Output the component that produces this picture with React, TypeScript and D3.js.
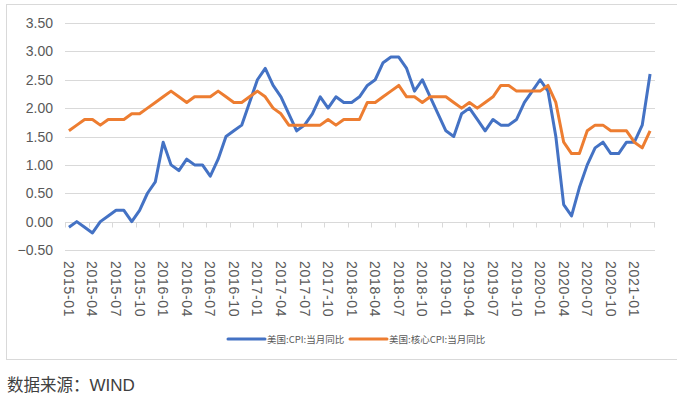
import React, { useRef, useEffect } from 'react';
import * as d3 from 'd3';

// 2015-01 .. 2021-03, monthly
const months = d3.range(75).map(i => {
  const y = 2015 + Math.floor(i / 12);
  const m = (i % 12) + 1;
  return `${y}-${m < 10 ? '0' + m : m}`;
});

const cpi = [
  -0.1, 0.0, -0.1, -0.2, 0.0, 0.1, 0.2, 0.2, 0.0, 0.2, 0.5, 0.7,
  1.4, 1.0, 0.9, 1.1, 1.0, 1.0, 0.8, 1.1, 1.5, 1.6, 1.7, 2.1,
  2.5, 2.7, 2.4, 2.2, 1.9, 1.6, 1.7, 1.9, 2.2, 2.0, 2.2, 2.1,
  2.1, 2.2, 2.4, 2.5, 2.8, 2.9, 2.9, 2.7, 2.3, 2.5, 2.2, 1.9,
  1.6, 1.5, 1.9, 2.0, 1.8, 1.6, 1.8, 1.7, 1.7, 1.8, 2.1, 2.3,
  2.5, 2.3, 1.5, 0.3, 0.1, 0.6, 1.0, 1.3, 1.4, 1.2, 1.2, 1.4,
  1.4, 1.7, 2.6,
];

const coreCpi = [
  1.6, 1.7, 1.8, 1.8, 1.7, 1.8, 1.8, 1.8, 1.9, 1.9, 2.0, 2.1,
  2.2, 2.3, 2.2, 2.1, 2.2, 2.2, 2.2, 2.3, 2.2, 2.1, 2.1, 2.2,
  2.3, 2.2, 2.0, 1.9, 1.7, 1.7, 1.7, 1.7, 1.7, 1.8, 1.7, 1.8,
  1.8, 1.8, 2.1, 2.1, 2.2, 2.3, 2.4, 2.2, 2.2, 2.1, 2.2, 2.2,
  2.2, 2.1, 2.0, 2.1, 2.0, 2.1, 2.2, 2.4, 2.4, 2.3, 2.3, 2.3,
  2.3, 2.4, 2.1, 1.4, 1.2, 1.2, 1.6, 1.7, 1.7, 1.6, 1.6, 1.6,
  1.4, 1.3, 1.6,
];

const yTicks = [-0.5, 0, 0.5, 1, 1.5, 2, 2.5, 3, 3.5];

const seriesNames = ['美国:CPI:当月同比', '美国:核心CPI:当月同比'];
const seriesColors = ['#4472C4', '#ED7D31'];

const W = 677, H = 398;

const App = () => {
  const svgRef = useRef(null);

  useEffect(() => {
    const svg = d3.select(svgRef.current);
    svg.selectAll('*').remove();

    const left = 65, right = 654, top = 23, bottom = 250;

    const x = d3.scaleBand().domain(months).range([left, right]).padding(0);
    const y = d3.scaleLinear().domain([-0.5, 3.5]).range([bottom, top]);
    const cx = d => x(d) + x.bandwidth() / 2;

    // chart frame
    svg.append('rect')
      .attr('x', 6.5).attr('y', 4.5)
      .attr('width', 680).attr('height', 355)
      .attr('fill', 'none').attr('stroke', '#D9D9D9');

    // gridlines + y labels
    svg.append('g').selectAll('line').data(yTicks).enter().append('line')
      .attr('x1', left).attr('x2', right + 1)
      .attr('y1', d => Math.round(y(d)) + 0.5).attr('y2', d => Math.round(y(d)) + 0.5)
      .attr('stroke', '#D9D9D9');

    svg.append('g').selectAll('text').data(yTicks).enter().append('text')
      .attr('x', 53).attr('y', d => y(d))
      .attr('text-anchor', 'end').attr('dominant-baseline', 'central')
      .attr('font-family', 'Liberation Sans, Arial, sans-serif')
      .attr('font-size', 14).attr('fill', '#595959')
      .text(d => d3.format('.2f')(d));

    // category ticks on the zero line
    const y0 = Math.round(y(0)) + 0.5;
    const tickPos = months.filter((_, i) => i % 3 === 0).map(m => x(m)).concat([right]);
    svg.append('g').selectAll('line').data(tickPos).enter().append('line')
      .attr('x1', d => Math.round(d) + 0.5).attr('x2', d => Math.round(d) + 0.5)
      .attr('y1', y0).attr('y2', y0 + 5)
      .attr('stroke', '#D9D9D9');
    svg.append('line')
      .attr('x1', left).attr('x2', right + 1).attr('y1', y0).attr('y2', y0)
      .attr('stroke', '#D9D9D9');

    // x labels
    svg.append('g').selectAll('text')
      .data(months.filter((_, i) => i % 3 === 0)).enter().append('text')
      .attr('transform', d => `translate(${cx(d)},261) rotate(90)`)
      .attr('dominant-baseline', 'central')
      .attr('font-family', 'Liberation Sans, Arial, sans-serif')
      .attr('font-size', 14).attr('letter-spacing', 0.7).attr('fill', '#595959')
      .text(d => d);

    // lines
    const line = d3.line().x((d, i) => cx(months[i])).y(d => y(d));
    [cpi, coreCpi].forEach((s, k) => {
      svg.append('path')
        .datum(s)
        .attr('d', line)
        .attr('fill', 'none')
        .attr('stroke', seriesColors[k])
        .attr('stroke-width', 3)
        .attr('stroke-linejoin', 'round');
    });

    // legend
    const legendX = [228, 350];
    seriesNames.forEach((name, k) => {
      svg.append('line')
        .attr('x1', legendX[k]).attr('x2', legendX[k] + 37)
        .attr('y1', 339).attr('y2', 339)
        .attr('stroke', seriesColors[k]).attr('stroke-width', 3)
        .attr('stroke-linecap', 'round');
      svg.append('text')
        .attr('x', legendX[k] + 39).attr('y', 339)
        .attr('dominant-baseline', 'central')
        .attr('font-family', 'Noto Sans CJK SC, sans-serif')
        .attr('font-size', 9.5).attr('fill', '#595959')
        .text(name);
    });

    // source note
    const note = svg.append('text')
      .attr('x', 7).attr('y', 391)
      .attr('font-family', 'Noto Sans CJK SC, sans-serif')
      .attr('font-size', 16.5).attr('fill', '#404040');
    note.append('tspan').text('数据来源：');
    note.append('tspan')
      .attr('font-family', 'Liberation Sans, Arial, sans-serif')
      .attr('font-size', 17)
      .text('WIND');
  }, []);

  return (
    <svg ref={svgRef} width={W} height={H}
      style={{ position: 'absolute', left: 0, top: 0, background: '#fff' }} />
  );
};

export default App;
